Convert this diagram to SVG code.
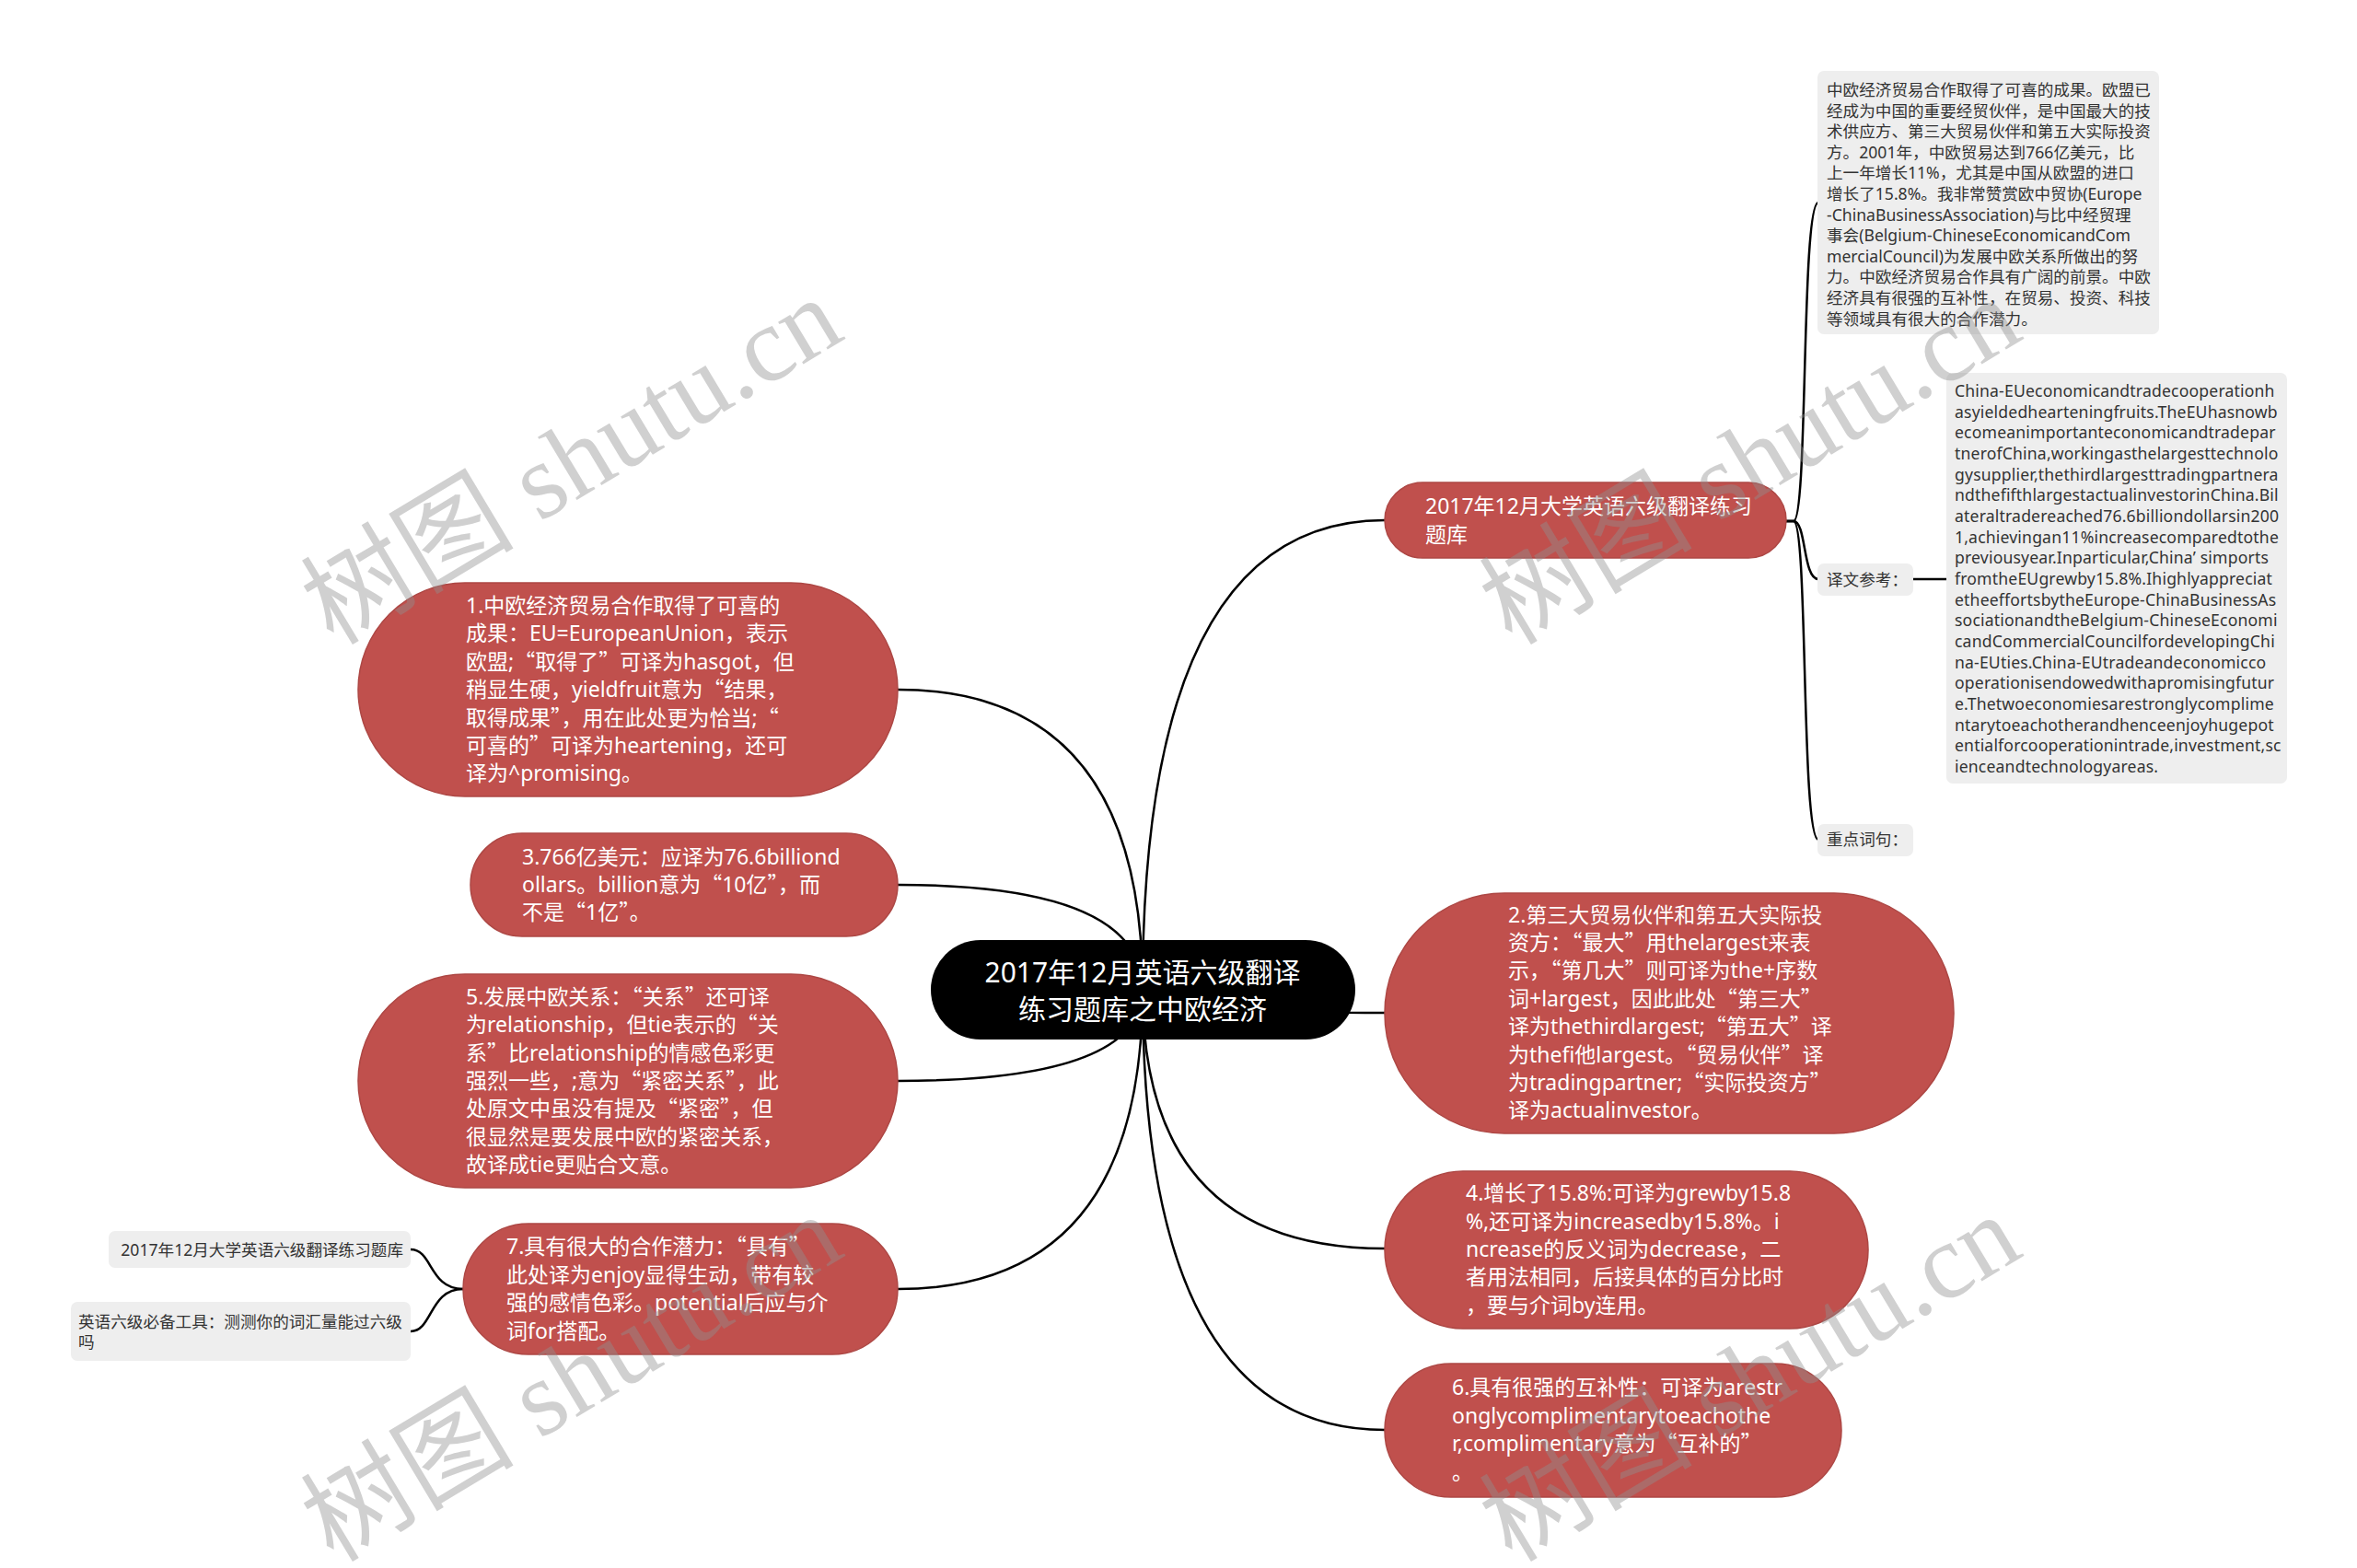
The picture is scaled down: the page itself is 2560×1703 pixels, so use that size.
<svg xmlns="http://www.w3.org/2000/svg" width="2560" height="1703" viewBox="0 0 2560 1703">
<style>
.red{fill:#c0504d;stroke:#ad4744;stroke-width:1.5}
.gray{fill:#eeeeee}
.wt{font-family:"Noto Sans","Noto Sans CJK SC",sans-serif;font-size:23px;fill:#ffffff}
.gt{font-family:"Noto Sans","Noto Sans CJK SC",sans-serif;font-size:17.6px;fill:#333333}
.en{letter-spacing:0.17px}
.ct{font-family:"Noto Sans","Noto Sans CJK SC",sans-serif;font-size:30px;fill:#ffffff;text-anchor:middle}
.c{font-family:"Noto Sans CJK SC",sans-serif}
.ln{fill:none;stroke:#000000;stroke-width:2.5}
.wm{font-family:"Liberation Serif","Noto Sans CJK SC",serif;font-size:116px;fill:#909090;opacity:0.42}
</style>
<g id="connectors">
<path class="ln" d="M1241,1075 Q1241,565 1504,565"/>
<path class="ln" d="M1241,1075 Q1241,1100 1504,1100"/>
<path class="ln" d="M1241,1075 Q1241,1356 1504,1356"/>
<path class="ln" d="M1241,1075 Q1241,1553 1504,1553"/>
<path class="ln" d="M1241,1075 Q1241,749 975,749"/>
<path class="ln" d="M1241,1075 Q1241,961 975,961"/>
<path class="ln" d="M1241,1075 Q1241,1174 975,1174"/>
<path class="ln" d="M1241,1075 Q1241,1400 975,1400"/>
<path class="ln" d="M1940,566 L1948,566 C1964,566 1956,220 1975,220"/>
<path class="ln" d="M1940,566 L1948,566 C1962,566 1958,629 1975,629"/>
<path class="ln" d="M1940,566 L1948,566 C1964,566 1956,912 1975,912"/>
<path class="ln" d="M2078,629 L2114,629"/>
<path class="ln" d="M503,1400 C466,1400 470,1357 446,1357"/>
<path class="ln" d="M503,1400 C466,1400 470,1446 446,1446"/>
</g>
<g id="central">
<rect x="1011" y="1021" width="461" height="108" rx="54" fill="#000000"/>
<text class="ct"><tspan x="1241" y="1067">2017年12月英语六级翻译</tspan><tspan x="1241" y="1107">练习题库之中欧经济</tspan></text>
</g>
<g id="node-t">
<rect class="red" x="1504" y="524" width="436" height="82" rx="41"/>
<text class="wt"><tspan x="1548" y="557.5">2017年12月大学英语六级翻译练习</tspan><tspan x="1548" y="588.5">题库</tspan></text>
</g>
<g id="box-source">
<rect class="gray" x="1974" y="77" width="371" height="286" rx="7"/>
<text class="gt">
<tspan x="1984" y="104">中欧经济贸易合作取得了可喜的成果。欧盟已</tspan>
<tspan x="1984" y="126.6">经成为中国的重要经贸伙伴，是中国最大的技</tspan>
<tspan x="1984" y="149.2">术供应方、第三大贸易伙伴和第五大实际投资</tspan>
<tspan x="1984" y="171.8">方。2001年，中欧贸易达到766亿美元，比</tspan>
<tspan x="1984" y="194.4">上一年增长11%，尤其是中国从欧盟的进口</tspan>
<tspan x="1984" y="217">增长了15.8%。我非常赞赏欧中贸协(Europe</tspan>
<tspan x="1984" y="239.6">-ChinaBusinessAssociation)与比中经贸理</tspan>
<tspan x="1984" y="262.2">事会(Belgium-ChineseEconomicandCom</tspan>
<tspan x="1984" y="284.8">mercialCouncil)为发展中欧关系所做出的努</tspan>
<tspan x="1984" y="307.4">力。中欧经济贸易合作具有广阔的前景。中欧</tspan>
<tspan x="1984" y="330">经济具有很强的互补性，在贸易、投资、科技</tspan>
<tspan x="1984" y="352.6">等领域具有很大的合作潜力。</tspan>
</text>
</g>
<g id="box-ref">
<rect class="gray" x="1974" y="612" width="104" height="35" rx="7"/>
<text class="gt" x="1984" y="636">译文参考：</text>
</g>
<g id="box-english">
<rect class="gray" x="2114" y="405" width="370" height="446" rx="7"/>
<text class="gt en">
<tspan x="2123" y="431">China-EUeconomicandtradecooperationh</tspan>
<tspan x="2123" y="453.7">asyieldedhearteningfruits.TheEUhasnowb</tspan>
<tspan x="2123" y="476.3">ecomeanimportanteconomicandtradepar</tspan>
<tspan x="2123" y="499">tnerofChina,workingasthelargesttechnolo</tspan>
<tspan x="2123" y="521.7">gysupplier,thethirdlargesttradingpartnera</tspan>
<tspan x="2123" y="544.3">ndthefifthlargestactualinvestorinChina.Bil</tspan>
<tspan x="2123" y="567">ateraltradereached76.6billiondollarsin200</tspan>
<tspan x="2123" y="589.7">1,achievingan11%increasecomparedtothe</tspan>
<tspan x="2123" y="612.3">previousyear.Inparticular,China’ simports</tspan>
<tspan x="2123" y="635">fromtheEUgrewby15.8%.Ihighlyappreciat</tspan>
<tspan x="2123" y="657.7">etheeffortsbytheEurope-ChinaBusinessAs</tspan>
<tspan x="2123" y="680.3">sociationandtheBelgium-ChineseEconomi</tspan>
<tspan x="2123" y="703">candCommercialCouncilfordevelopingChi</tspan>
<tspan x="2123" y="725.7">na-EUties.China-EUtradeandeconomicco</tspan>
<tspan x="2123" y="748.3">operationisendowedwithapromisingfutur</tspan>
<tspan x="2123" y="771">e.Thetwoeconomiesarestronglycomplime</tspan>
<tspan x="2123" y="793.7">ntarytoeachotherandhenceenjoyhugepot</tspan>
<tspan x="2123" y="816.3">entialforcooperationintrade,investment,sc</tspan>
<tspan x="2123" y="839">ienceandtechnologyareas.</tspan>
</text>
</g>
<g id="box-key">
<rect class="gray" x="1974" y="895" width="104" height="35" rx="7"/>
<text class="gt" x="1984" y="918">重点词句：</text>
</g>
<g id="node-1">
<rect class="red" x="389" y="633" width="586" height="232" rx="116"/>
<text class="wt">
<tspan x="506" y="666">1.中欧经济贸易合作取得了可喜的</tspan>
<tspan x="506" y="696.4">成果：EU=EuropeanUnion，表示</tspan>
<tspan x="506" y="726.8">欧盟;<tspan class="c">“</tspan>取得了<tspan class="c">”</tspan>可译为hasgot，但</tspan>
<tspan x="506" y="757.2">稍显生硬，yieldfruit意为<tspan class="c">“</tspan>结果，</tspan>
<tspan x="506" y="787.6">取得成果<tspan class="c">”</tspan>，用在此处更为恰当;<tspan class="c">“</tspan></tspan>
<tspan x="506" y="818">可喜的<tspan class="c">”</tspan>可译为heartening，还可</tspan>
<tspan x="506" y="848.4">译为^promising。</tspan>
</text>
</g>
<g id="node-3">
<rect class="red" x="511" y="905" width="464" height="112" rx="56"/>
<text class="wt">
<tspan x="567" y="938.6">3.766亿美元：应译为76.6billiond</tspan>
<tspan x="567" y="969">ollars。billion意为<tspan class="c">“</tspan>10亿<tspan class="c">”</tspan>，而</tspan>
<tspan x="567" y="999.4">不是<tspan class="c">“</tspan>1亿<tspan class="c">”</tspan>。</tspan>
</text>
</g>
<g id="node-5">
<rect class="red" x="389" y="1058" width="586" height="232" rx="116"/>
<text class="wt">
<tspan x="506" y="1090.8">5.发展中欧关系：<tspan class="c">“</tspan>关系<tspan class="c">”</tspan>还可译</tspan>
<tspan x="506" y="1121.2">为relationship，但tie表示的<tspan class="c">“</tspan>关</tspan>
<tspan x="506" y="1151.6">系<tspan class="c">”</tspan>比relationship的情感色彩更</tspan>
<tspan x="506" y="1182">强烈一些，;意为<tspan class="c">“</tspan>紧密关系<tspan class="c">”</tspan>，此</tspan>
<tspan x="506" y="1212.4">处原文中虽没有提及<tspan class="c">“</tspan>紧密<tspan class="c">”</tspan>，但</tspan>
<tspan x="506" y="1242.8">很显然是要发展中欧的紧密关系，</tspan>
<tspan x="506" y="1273.2">故译成tie更贴合文意。</tspan>
</text>
</g>
<g id="node-7">
<rect class="red" x="503" y="1329" width="472" height="142" rx="71"/>
<text class="wt">
<tspan x="550" y="1362.4">7.具有很大的合作潜力：<tspan class="c">“</tspan>具有<tspan class="c">”</tspan></tspan>
<tspan x="550" y="1392.8">此处译为enjoy显得生动，带有较</tspan>
<tspan x="550" y="1423.2">强的感情色彩。potential后应与介</tspan>
<tspan x="550" y="1453.6">词for搭配。</tspan>
</text>
</g>
<g id="box-left-1">
<rect class="gray" x="118" y="1337" width="328" height="40" rx="7"/>
<text class="gt" x="438" y="1363.5" text-anchor="end">2017年12月大学英语六级翻译练习题库</text>
</g>
<g id="box-left-2">
<rect class="gray" x="77" y="1414" width="369" height="64" rx="7"/>
<text class="gt"><tspan x="85" y="1441.5">英语六级必备工具：测测你的词汇量能过六级</tspan><tspan x="85" y="1464">吗</tspan></text>
</g>
<g id="node-2">
<rect class="red" x="1504" y="970" width="618" height="261" rx="130"/>
<text class="wt">
<tspan x="1638" y="1001.6">2.第三大贸易伙伴和第五大实际投</tspan>
<tspan x="1638" y="1032">资方：<tspan class="c">“</tspan>最大<tspan class="c">”</tspan>用thelargest来表</tspan>
<tspan x="1638" y="1062.4">示，<tspan class="c">“</tspan>第几大<tspan class="c">”</tspan>则可译为the+序数</tspan>
<tspan x="1638" y="1092.8">词+largest，因此此处<tspan class="c">“</tspan>第三大<tspan class="c">”</tspan></tspan>
<tspan x="1638" y="1123.2">译为thethirdlargest;<tspan class="c">“</tspan>第五大<tspan class="c">”</tspan>译</tspan>
<tspan x="1638" y="1153.6">为thefi他largest。<tspan class="c">“</tspan>贸易伙伴<tspan class="c">”</tspan>译</tspan>
<tspan x="1638" y="1184">为tradingpartner;<tspan class="c">“</tspan>实际投资方<tspan class="c">”</tspan></tspan>
<tspan x="1638" y="1214.4">译为actualinvestor。</tspan>
</text>
</g>
<g id="node-4">
<rect class="red" x="1504" y="1272" width="525" height="171" rx="85"/>
<text class="wt">
<tspan x="1592" y="1304.2">4.增长了15.8%:可译为grewby15.8</tspan>
<tspan x="1592" y="1334.6">%,还可译为increasedby15.8%。i</tspan>
<tspan x="1592" y="1365">ncrease的反义词为decrease，二</tspan>
<tspan x="1592" y="1395.4">者用法相同，后接具体的百分比时</tspan>
<tspan x="1592" y="1425.8">，要与介词by连用。</tspan>
</text>
</g>
<g id="node-6">
<rect class="red" x="1504" y="1481" width="496" height="145" rx="72"/>
<text class="wt">
<tspan x="1577" y="1515.4">6.具有很强的互补性：可译为arestr</tspan>
<tspan x="1577" y="1545.8">onglycomplimentarytoeachothe</tspan>
<tspan x="1577" y="1576.2">r,complimentary意为<tspan class="c">“</tspan>互补的<tspan class="c">”</tspan></tspan>
<tspan x="1577" y="1606.6">。</tspan>
</text>
</g>
<g id="watermarks">
<text class="wm" transform="translate(362,702) rotate(-31)">树图 shutu.cn</text>
<text class="wm" transform="translate(1642,702) rotate(-31)">树图 shutu.cn</text>
<text class="wm" transform="translate(362,1698) rotate(-31)">树图 shutu.cn</text>
<text class="wm" transform="translate(1642,1698) rotate(-31)">树图 shutu.cn</text>
</g>
</svg>
